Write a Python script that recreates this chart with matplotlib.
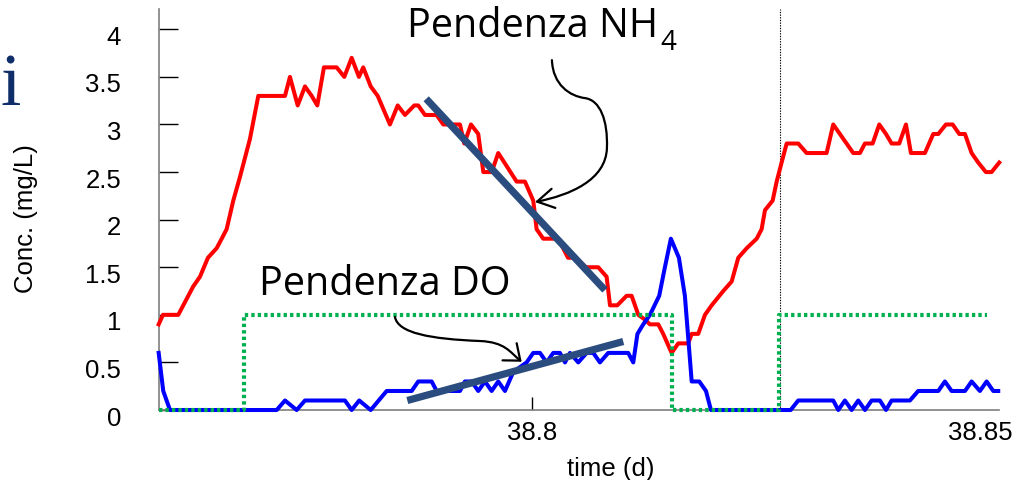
import matplotlib
matplotlib.use("Agg")
import matplotlib.pyplot as plt
from matplotlib.path import Path
from matplotlib.patches import FancyArrowPatch
from matplotlib.transforms import ScaledTranslation

# ---- NH4 concentration (mg/L) over time (d) ----
nh4_time = [
    38.76000, 38.76046, 38.76210, 38.76371, 38.76442, 38.76528, 38.76621, 38.76675, 38.76728, 38.76799,
    38.76871, 38.76978, 38.77067, 38.77353, 38.77406, 38.77489, 38.77567, 38.77639, 38.77699, 38.77770,
    38.77906, 38.77988, 38.78067, 38.78145, 38.78191, 38.78271, 38.78346, 38.78477, 38.78560, 38.78638,
    38.78738, 38.78780, 38.78852, 38.78977, 38.79048, 38.79227, 38.79273, 38.79345, 38.79423, 38.79477,
    38.79567, 38.79637, 38.79834, 38.79923, 38.80012, 38.80048, 38.80119, 38.80280, 38.80384, 38.80469,
    38.80576, 38.80708, 38.80798, 38.80834, 38.80912, 38.81012, 38.81066, 38.81137, 38.81208, 38.81262,
    38.81351, 38.81404, 38.81494, 38.81565, 38.81672, 38.81709, 38.81779, 38.81851, 38.81923, 38.82047,
    38.82137, 38.82208, 38.82298, 38.82405, 38.82458, 38.82494, 38.82576, 38.82619, 38.82672, 38.82726,
    38.82850, 38.82940, 38.83154, 38.83225, 38.83332, 38.83439, 38.83511, 38.83564, 38.83647, 38.83718,
    38.83790, 38.83850, 38.83932, 38.84004, 38.84057, 38.84207, 38.84296, 38.84350, 38.84432, 38.84504,
    38.84575, 38.84636, 38.84707, 38.84778, 38.84860, 38.84921, 38.85003,
]
nh4_conc = [
    0.9, 1.0, 1.0, 1.3, 1.4, 1.6, 1.7, 1.8, 1.9, 2.2,
    2.45, 2.85, 3.3, 3.3, 3.5, 3.2, 3.4, 3.3, 3.2, 3.6,
    3.6, 3.5, 3.7, 3.5, 3.6, 3.4, 3.3, 3.0, 3.2, 3.1,
    3.2, 3.2, 3.1, 3.1, 3.0, 3.0, 2.8, 3.0, 2.9, 2.5,
    2.5, 2.7, 2.4, 2.4, 2.2, 1.9, 1.8, 1.8, 1.6, 1.6,
    1.5, 1.5, 1.4, 1.1, 1.1, 1.2, 1.2, 1.0, 0.95, 0.9,
    0.9, 0.8, 0.6, 0.7, 0.7, 0.8, 0.8, 1.0, 1.1, 1.25,
    1.35, 1.6, 1.7, 1.8, 1.9, 2.1, 2.2, 2.4, 2.6, 2.8,
    2.8, 2.7, 2.7, 3.0, 2.85, 2.7, 2.7, 2.8, 2.8, 3.0,
    2.9, 2.8, 2.8, 3.0, 2.7, 2.7, 2.9, 2.9, 3.0, 3.0,
    2.9, 2.9, 2.7, 2.6, 2.5, 2.5, 2.6,
]

# ---- dissolved oxygen (mg/L) over time (d) ----
do_time = [
    38.76000, 38.76049, 38.76121, 38.77264, 38.77353, 38.77478, 38.77567, 38.77995, 38.78067, 38.78148,
    38.78271, 38.78442, 38.78710, 38.78780, 38.78924, 38.78977, 38.79227, 38.79280, 38.79352, 38.79423,
    38.79495, 38.79566, 38.79637, 38.79709, 38.79798, 38.79941, 38.80012, 38.80084, 38.80156, 38.80226,
    38.80298, 38.80352, 38.80405, 38.80494, 38.80584, 38.80655, 38.80726, 38.80815, 38.81029, 38.81083,
    38.81128, 38.81190, 38.81262, 38.81361, 38.81422, 38.81486, 38.81572, 38.81636, 38.81709, 38.81790,
    38.81862, 38.81915, 38.82769, 38.82850, 38.83225, 38.83279, 38.83350, 38.83422, 38.83493, 38.83565,
    38.83636, 38.83725, 38.83790, 38.83850, 38.84046, 38.84135, 38.84350, 38.84421, 38.84493, 38.84636,
    38.84707, 38.84796, 38.84868, 38.84939, 38.84992,
]
do_conc = [
    0.6, 0.2, 0.0, 0.0, 0.1, 0.0, 0.1, 0.1, 0.0, 0.1,
    0.0, 0.2, 0.2, 0.3, 0.3, 0.2, 0.2, 0.3, 0.3, 0.2,
    0.3, 0.2, 0.3, 0.2, 0.4, 0.5, 0.6, 0.6, 0.5, 0.6,
    0.6, 0.5, 0.6, 0.5, 0.6, 0.6, 0.5, 0.6, 0.6, 0.5,
    0.8, 0.9, 1.0, 1.2, 1.5, 1.8, 1.6, 1.2, 0.3, 0.3,
    0.2, 0.0, 0.0, 0.1, 0.1, 0.0, 0.1, 0.0, 0.1, 0.0,
    0.1, 0.1, 0.0, 0.1, 0.1, 0.2, 0.2, 0.3, 0.2, 0.2,
    0.3, 0.2, 0.3, 0.2, 0.2,
]

# ---- aeration on/off state (step signal) ----
aer_time = [38.76000, 38.76917, 38.81494, 38.82647, 38.84868]
aer_state = [0, 1, 0, 1, 1]

# ---- hand-drawn slope lines ----
nh4_slope_time = [38.78865, 38.80780]
nh4_slope_conc = [3.27, 1.26]
do_slope_time = [38.78663, 38.80976]
do_slope_conc = [0.10, 0.72]

switch_time = 38.8265

y_ticks = [0, 0.5, 1, 1.5, 2, 2.5, 3, 3.5, 4]
y_tick_labels = ["0", "0.5", "1", "1.5", "2", "2.5", "3", "3.5", "4"]
x_ticks = [38.8, 38.85]
x_tick_labels = ["38.8", "38.85"]

plt.rcParams["font.family"] = ["Liberation Sans", "DejaVu Sans"]

fig = plt.figure(figsize=(10.27, 4.8), dpi=100)
ax = fig.add_axes([0.1545, 0.1458, 0.8182, 0.8348])

ax.plot(nh4_time, nh4_conc, color="#FF0000", lw=2.9, solid_joinstyle="round",
        clip_on=False, zorder=3)
ax.plot(do_time, do_conc, color="#0000FF", lw=2.9, solid_joinstyle="round",
        clip_on=False, zorder=4)
ax.plot(aer_time, aer_state, color="#00B050", lw=3.0, drawstyle="steps-post",
        linestyle=(0, (0.8, 0.75)), dash_capstyle="butt", clip_on=False, zorder=5)
ax.axvline(switch_time, color="black", lw=0.8, linestyle=(0, (1.2, 1.2)), zorder=2)

slope_color = "#2B4C7E"
ax.plot(nh4_slope_time, nh4_slope_conc, color=slope_color, lw=5.2,
        solid_capstyle="butt", zorder=6)
ax.plot(do_slope_time, do_slope_conc, color=slope_color, lw=5.2,
        solid_capstyle="butt", zorder=6)

ax.set_xlim(38.76, 38.85)
ax.set_ylim(0, 4.21)

for side in ("top", "right"):
    ax.spines[side].set_visible(False)
for side in ("left", "bottom"):
    ax.spines[side].set_color("#7F7F7F")
    ax.spines[side].set_linewidth(1.2)

ax.set_yticks(y_ticks, y_tick_labels)
ax.set_xticks(x_ticks, x_tick_labels)
ax.tick_params(axis="y", direction="in", length=14, width=1.0, color="black",
               labelsize=18.5, pad=27.0)
ax.tick_params(axis="x", direction="in", length=9.5, width=1.0, color="black",
               labelsize=18.5, pad=8)

# nudge tick labels
for t in ax.yaxis.get_major_ticks():
    t.label1.set_transform(t.label1.get_transform()
                           + ScaledTranslation(0, -0.06, fig.dpi_scale_trans))
xt = ax.xaxis.get_major_ticks()
xt[1].tick1line.set_visible(False)
xt[1].label1.set_transform(xt[1].label1.get_transform()
                           + ScaledTranslation(-0.19, 0, fig.dpi_scale_trans))

ax.set_xlabel("time (d)", fontsize=18.5)
ax.xaxis.set_label_coords(0.5383, -0.118)
ax.set_ylabel("Conc. (mg/L)", fontsize=18.5)
ax.yaxis.set_label_coords(-0.1573, 0.479)
ax.yaxis.label.set_verticalalignment("center")

# curved pointer arrows
nh4_arrow = Path(
    [(38.80212, 3.676), (38.80223, 3.414), (38.80405, 3.298), (38.80566, 3.277),
     (38.80727, 3.256), (38.80812, 3.046), (38.80801, 2.752),
     (38.80790, 2.416), (38.80405, 2.258), (38.80030, 2.185)],
    [Path.MOVETO, Path.CURVE4, Path.CURVE4, Path.CURVE4,
     Path.CURVE4, Path.CURVE4, Path.CURVE4,
     Path.CURVE4, Path.CURVE4, Path.CURVE4])
ax.add_patch(FancyArrowPatch(path=nh4_arrow, arrowstyle="->,head_length=12,head_width=7",
                             mutation_scale=1, lw=1.6, color="black", zorder=7,
                             clip_on=False))
do_arrow = Path(
    [(38.78531, 0.977), (38.78563, 0.809), (38.78906, 0.746), (38.79441, 0.725),
     (38.79709, 0.714), (38.79762, 0.609), (38.79888, 0.507)],
    [Path.MOVETO, Path.CURVE4, Path.CURVE4, Path.CURVE4,
     Path.CURVE4, Path.CURVE4, Path.CURVE4])
ax.add_patch(FancyArrowPatch(path=do_arrow, arrowstyle="->,head_length=10,head_width=8",
                             mutation_scale=1, lw=1.6, color="black", zorder=7,
                             clip_on=False))

callout_font = ["Open Sans", "DejaVu Sans"]
nh4_title = fig.text(0.3963, 0.9229, "Pendenza NH", fontsize=28.5, family=callout_font,
                     ha="left", va="baseline")
# subscript placed right after the main callout text
ax.annotate("4", xy=(1.0, 0.8958), xycoords=(nh4_title, "figure fraction"),
            xytext=(1.5, 0), textcoords="offset points", fontsize=20,
            family=callout_font, ha="left", va="baseline", annotation_clip=False)
fig.text(0.2522, 0.3854, "Pendenza DO", fontsize=28.5, family=callout_font,
         ha="left", va="baseline")

# fragment of the slide title at the left edge
fig.text(0.0, 0.78125, "i", fontsize=53, family=["Liberation Serif", "DejaVu Serif"],
         color="#0F2D69", ha="left", va="baseline")

fig.savefig("out.png", dpi=100)
